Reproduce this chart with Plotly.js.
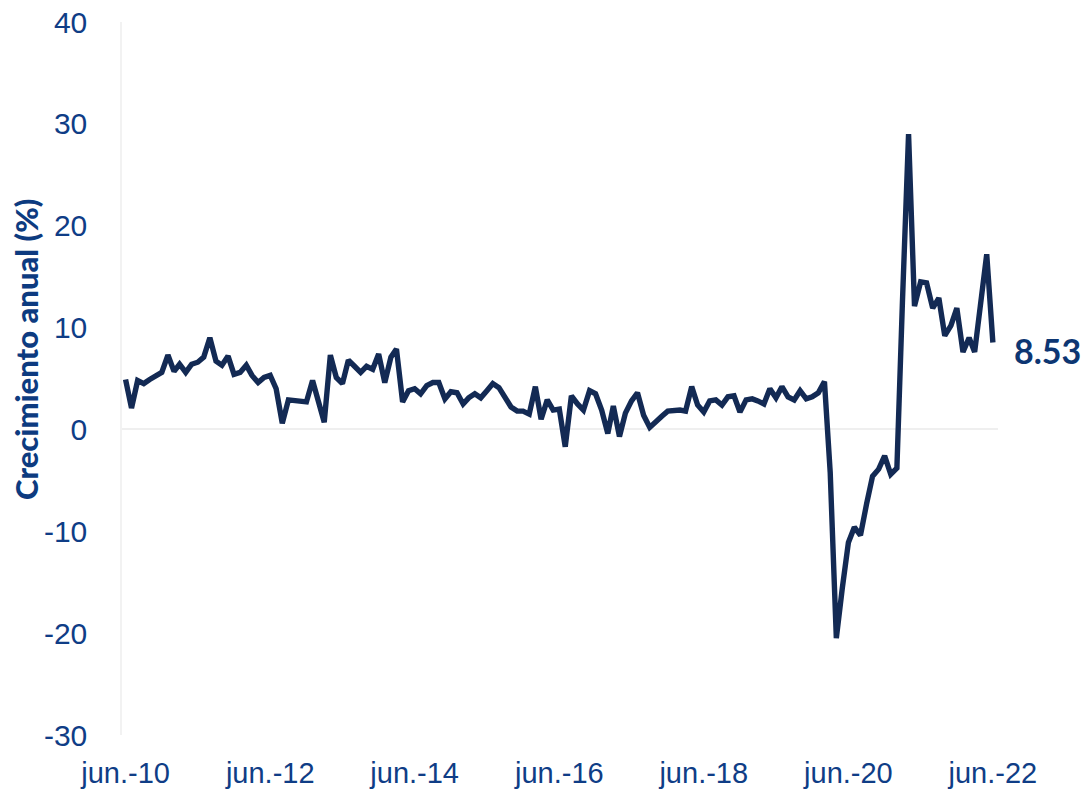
<!DOCTYPE html>
<html>
<head>
<meta charset="utf-8">
<script src="https://cdn.plot.ly/plotly-3.0.1.min.js"></script>
<style>
  html, body { margin: 0; padding: 0; background: #ffffff; }
  #chart { width: 1085px; height: 791px; }
</style>
</head>
<body>
<div id="chart"></div>
<script>
// Monthly series: jun-2010 .. jun-2022 (145 months)
const startYear = 2010;
const startMonth = 6;
const values = [
  4.9, 2.1, 4.8, 4.5, 4.9, 5.3, 5.6, 7.3, 5.7, 6.4, 5.6, 6.4,
  6.6, 7.1, 9.0, 6.7, 6.3, 7.2, 5.4, 5.6, 6.3, 5.3, 4.6, 5.1,
  5.3, 4.0, 0.6, 2.9, 2.8, 2.8, 2.7, 4.8, 2.5, 0.7, 7.3, 5.1,
  4.5, 6.8, 6.2, 5.6, 6.2, 5.9, 7.4, 4.6, 7.1, 7.9, 2.7, 3.8,
  4.0, 3.5, 4.3, 4.6, 4.6, 3.0, 3.7, 3.6, 2.5, 3.1, 3.5, 3.1,
  3.8, 4.5, 4.1, 3.0, 2.2, 1.8, 1.8, 1.5, 4.2, 1.0, 2.9, 1.9,
  2.0, -1.7, 3.3, 2.5, 1.9, 3.8, 3.5, 1.9, -0.4, 2.3, -0.7, 1.6,
  2.8, 3.6, 1.4, 0.2, 0.8, 1.3, 1.8, 1.9, 1.9, 1.8, 4.2, 2.4,
  1.7, 2.8, 2.9, 2.4, 3.2, 3.3, 1.7, 2.9, 3.0, 2.8, 2.5, 4.0,
  3.1, 4.2, 3.2, 2.9, 3.8, 3.0, 3.2, 3.6, 4.7, -4.2, -20.5, -15.6,
  -11.1, -9.6, -10.4, -7.3, -4.6, -3.9, -2.6, -4.4, -3.8, 12.5, 29.0, 12.1,
  14.5, 14.4, 11.9, 12.9, 9.2, 10.2, 11.9, 7.6, 9.0, 7.6, 12.4, 17.2,
  8.53
];

// month labels (dates) for each value
const dates = values.map((v, i) => {
  const total = (startMonth - 1) + i;
  const y = startYear + Math.floor(total / 12);
  const m = (total % 12) + 1;
  return y + '-' + String(m).padStart(2, '0') + '-01';
});

const xTickVals = ['2010-06-01', '2012-06-01', '2014-06-01', '2016-06-01', '2018-06-01', '2020-06-01', '2022-06-01'];
const xTickText = ['jun.-10', 'jun.-12', 'jun.-14', 'jun.-16', 'jun.-18', 'jun.-20', 'jun.-22'];
const yTickVals = [-30, -20, -10, 0, 10, 20, 30, 40];
const yTickText = ['-30', '-20', '-10', '0', '10', '20', '30', '40'];
const yTitle = 'Crecimiento anual (%)';

const lastDate = dates[dates.length - 1];
const lastValue = values[values.length - 1];

const trace = {
  x: dates,
  y: values,
  type: 'scatter',
  mode: 'lines',
  line: { color: '#132a54', width: 5.4, shape: 'linear' },
  hoverinfo: 'x+y',
  showlegend: false
};

const layout = {
  width: 1085,
  height: 791,
  margin: { l: 122, r: 87, t: 22, b: 56, pad: 0 },
  paper_bgcolor: '#ffffff',
  plot_bgcolor: '#ffffff',
  showlegend: false,
  xaxis: {
    type: 'date',
    range: ['2010-05-14', '2022-06-27'],
    tickvals: xTickVals,
    ticktext: xTickText,
    ticks: '',
    ticklabelstandoff: 18,
    showgrid: false,
    zeroline: false,
    showline: false,
    tickfont: { family: 'Liberation Sans, Arial, sans-serif', size: 29, color: '#0f3d86' }
  },
  yaxis: {
    range: [-30, 40],
    tickvals: yTickVals,
    ticktext: yTickText,
    ticks: '',
    ticklabelstandoff: 27,
    showgrid: false,
    zeroline: true,
    zerolinecolor: '#efefef',
    zerolinewidth: 1.5,
    showline: true,
    linecolor: '#f2f2f2',
    linewidth: 1.5,
    tickfont: { family: 'Liberation Sans, Arial, sans-serif', size: 30, color: '#0f3d86' }
  },
  annotations: [
    {
      x: lastDate,
      y: lastValue,
      xref: 'x',
      yref: 'y',
      text: '<b>' + lastValue.toFixed(2) + '</b>',
      showarrow: false,
      xanchor: 'left',
      yanchor: 'middle',
      xshift: 19,
      yshift: -8,
      font: { family: 'Lato, Noto Sans, sans-serif', size: 34, weight: 900, color: '#0d3672' }
    },
    {
      x: 0,
      y: 0.54,
      xref: 'paper',
      yref: 'paper',
      xshift: -96,
      text: yTitle,
      textangle: -90,
      showarrow: false,
      xanchor: 'center',
      yanchor: 'middle',
      font: { family: 'Lato, Noto Sans, sans-serif', size: 31, weight: 900, color: '#0d3b80' }
    }
  ]
};

Plotly.newPlot('chart', [trace], layout, { displayModeBar: false, responsive: false });
</script>
</body>
</html>
